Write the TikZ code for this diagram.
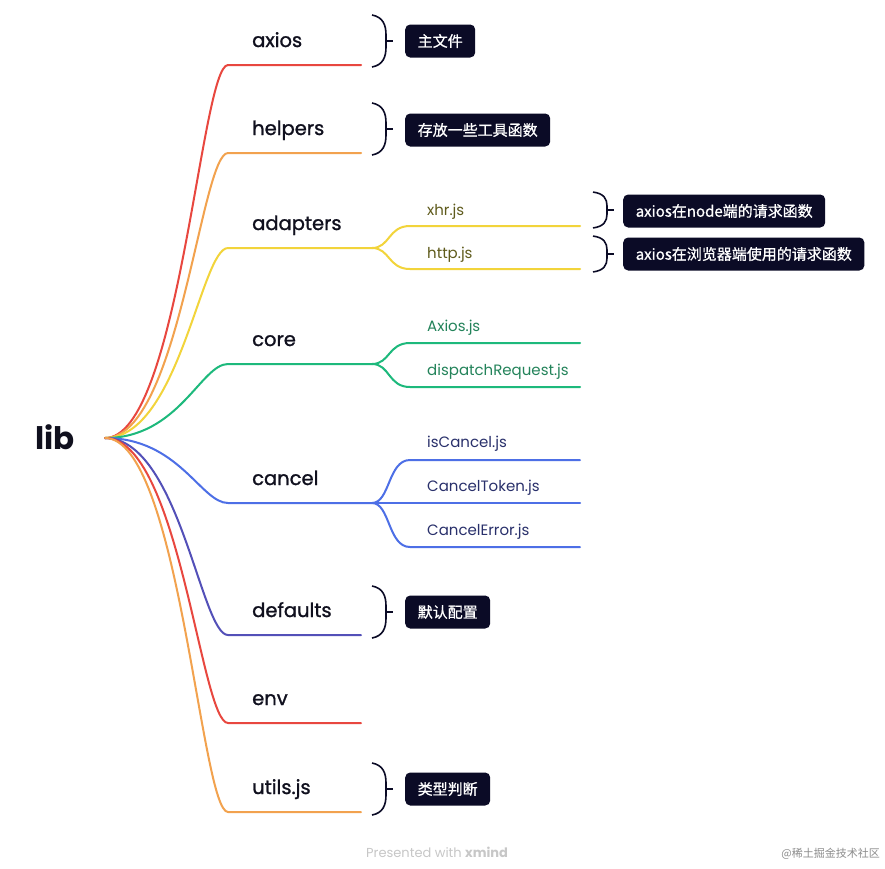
\documentclass[tikz,border=0pt]{standalone}
\usepackage{fontspec}
\setmainfont{Poppins}
\newfontfamily\cjk{Noto Sans CJK SC}
\newfontfamily\cjkb{Noto Sans CJK SC}[FakeBold=0.8]
\newfontfamily\popmed{Poppins}[FakeBold=1.2]
\definecolor{cred}{HTML}{E8473F}
\definecolor{corange}{HTML}{F2A24E}
\definecolor{cyellow}{HTML}{F2D43B}
\definecolor{cgreen}{HTML}{1DB97C}
\definecolor{cblue}{HTML}{4D6FE6}
\definecolor{cindigo}{HTML}{5350B8}
\definecolor{ink}{HTML}{10101E}
\definecolor{boxc}{HTML}{0B0B26}
\definecolor{olive}{HTML}{5F5B1C}
\definecolor{dgreen}{HTML}{23835A}
\definecolor{dnavy}{HTML}{29306B}
\tikzset{
  wire/.style={line width=2pt, line cap=round},
  mainlbl/.style={anchor=base west, inner sep=0pt, text=ink, font=\popmed\fontsize{19.5}{22}\selectfont},
  sublbl/.style={anchor=base west, inner sep=0pt, font=\fontsize{15}{17}\selectfont},
  notebox/.style={anchor=west, fill=boxc, text=white, rounded corners=5pt, minimum height=33pt, inner xsep=12.5pt, inner ysep=0pt, font=\cjkb\fontsize{15}{17}\selectfont},
  bracewire/.style={draw=boxc, line width=1.6pt},
  pics/mmbrace/.style={code={
    \draw[bracewire] (0,-26) .. controls (11,-24) and (14,-16) .. (14,-6) -- (14,6) .. controls (14,16) and (11,24) .. (0,26);
    \draw[bracewire] (14,0) -- (21,0);
  }}
}
\begin{document}
\begin{tikzpicture}[x=1pt,y=-1pt]
\useasboundingbox (0,0) rectangle (885,868);
\fill[white] (0,0) rectangle (885,868);
% root
\node[anchor=base west, inner sep=0pt, text=ink, font=\bfseries\fontsize{31}{35}\selectfont] (lib) at (35,449) {lib};
\coordinate (R) at (105,438);
% main branches
\foreach \nm/\yy/\cc/\xe in {ax/65/cred/361, he/153/corange/361, ad/248/cyellow/372, co/364/cgreen/372, ca/503/cblue/372, de/635/cindigo/361, en/723/cred/361, ut/812/corange/361}{
  \coordinate (\nm S) at (228,\yy);
  \coordinate (\nm E) at (\xe,\yy);
  \draw[wire, draw=\cc] (R) .. controls (179,438) and (201,\yy) .. (\nm S) -- (\nm E);
}
% main labels
\node[mainlbl] (laxios) at (252,47) {axios};
\node[mainlbl] (lhelpers) at (252,135) {helpers};
\node[mainlbl] (ladapters) at (252,230) {adapters};
\node[mainlbl] (lcore) at (252,346) {core};
\node[mainlbl] (lcancel) at (252,485) {cancel};
\node[mainlbl] (ldefaults) at (252,617) {defaults};
\node[mainlbl] (lenv) at (252,705) {env};
\node[mainlbl] (lutils) at (252,794) {utils.js};
% sub branches
\foreach \pp/\yy/\yt/\cc/\nm in {ad/248/226/cyellow/xhr, ad/248/269/cyellow/http, co/364/343/cgreen/axs, co/364/387/cgreen/dis, ca/503/460/cblue/isc, ca/503/503/cblue/ctk, ca/503/547/cblue/cer}{
  \coordinate (\nm S) at (410,\yt);
  \coordinate (\nm E) at (580,\yt);
  \draw[wire, draw=\cc] (\pp E) .. controls (390,\yy) and (388,\yt) .. (\nm S) -- (\nm E);
}
\node[sublbl, text=olive] (lxhr) at (427,215) {xhr.js};
\node[sublbl, text=olive] (lhttp) at (427,258) {http.js};
\node[sublbl, text=dgreen] (laxs) at (427,331) {Axios.js};
\node[sublbl, text=dgreen] (ldis) at (427,375) {dispatchRequest.js};
\node[sublbl, text=dnavy] (lisc) at (427,447) {isCancel.js};
\node[sublbl, text=dnavy] (lctk) at (427,491) {CancelToken.js};
\node[sublbl, text=dnavy] (lcer) at (427,535) {CancelError.js};
% braces and notes
\pic at (372,41) {mmbrace};
\node[notebox] (n1) at (405,41) {主文件};
\pic at (372,129) {mmbrace};
\node[notebox] (n2) at (405,130) {存放一些工具函数};
\pic[yscale=0.69] at (593,210) {mmbrace};
\node[notebox] (n3) at (623,211) {axios在node端的请求函数};
\pic[yscale=0.69] at (593,254) {mmbrace};
\node[notebox] (n4) at (623,254) {axios在浏览器端使用的请求函数};
\pic at (372,612) {mmbrace};
\node[notebox] (n5) at (405,612) {默认配置};
\pic at (372,789) {mmbrace};
\node[notebox] (n6) at (405,789) {类型判断};
% footer
\node[anchor=base west, inner sep=0pt, text=black!22, font=\fontsize{13}{15}\selectfont] (pw) at (366,857) {Presented with \textbf{xmind}};
\node[anchor=base east, inner sep=0pt, text=black!45, font=\cjk\fontsize{11}{13}\selectfont] (wm) at (880,857) {@稀土掘金技术社区};
\end{tikzpicture}
\end{document}
